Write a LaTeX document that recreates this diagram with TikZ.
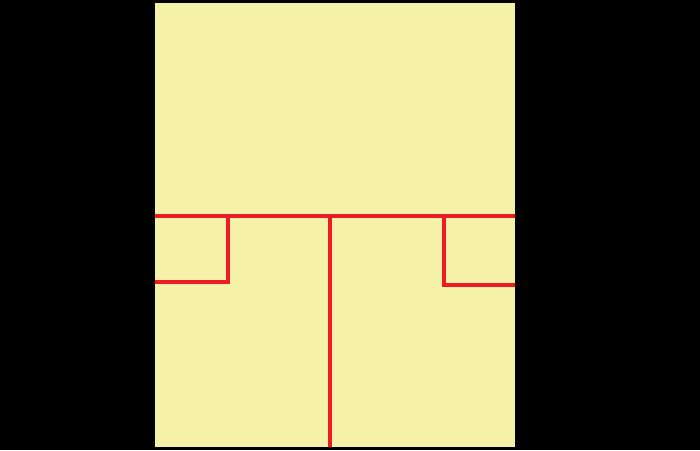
\documentclass[tikz,border=0pt]{standalone}
\usepackage{tikz}
\definecolor{padyellow}{HTML}{F5F1A7}
\definecolor{wallred}{HTML}{ED1C24}

\begin{document}
\begin{tikzpicture}[
        x=1pt, y=-1pt,
        wall/.style={draw=wallred, line width=4pt},
        floor/.style={fill=padyellow, draw=none}
      ]
        \fill[black] (0,0) rectangle (700,450);
        \useasboundingbox (0,0) rectangle (700,450);
        \fill[floor] (155,3) rectangle (515,447);
        % walls
        \coordinate (wl) at (155,216);
        \coordinate (wr) at (515,216);
        \draw[wall] (wl) -- (wr);
        \draw[wall] (329.5,216) -- (329.5,447);
        \draw[wall] (227.5,216) |- (155,281.5);
        \draw[wall] (444,216) |- (515,285);
      \end{tikzpicture}
\end{document}
